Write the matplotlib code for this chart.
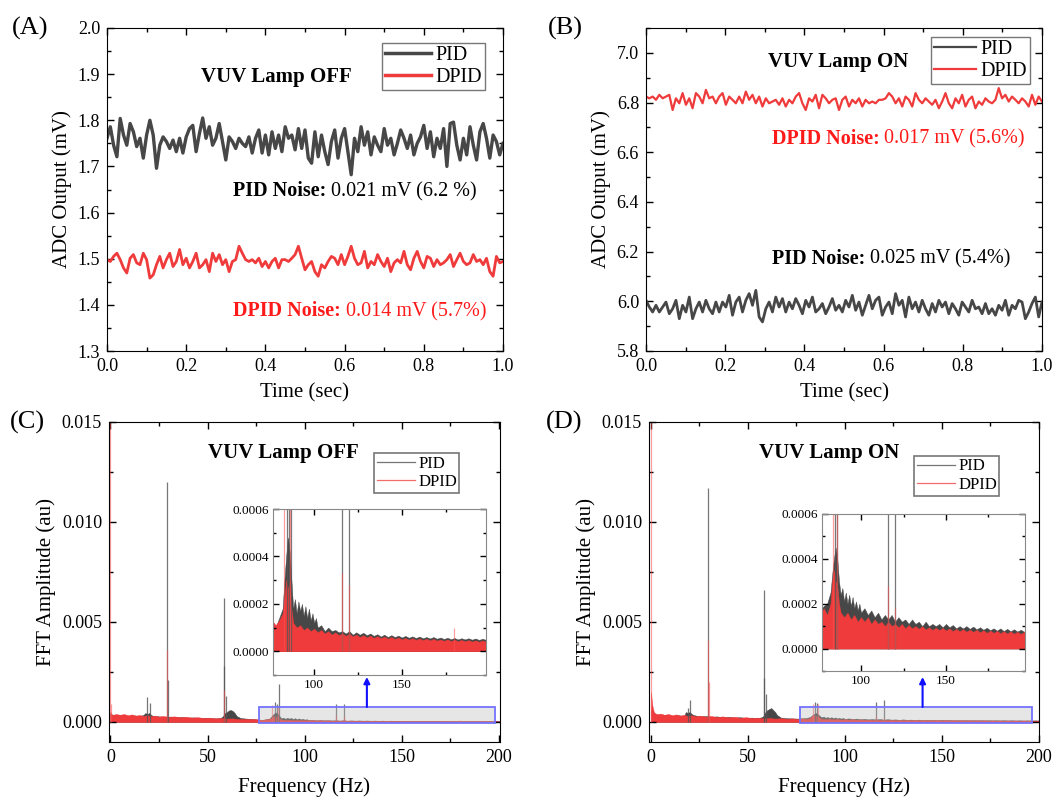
import numpy as np
import matplotlib
matplotlib.use('Agg')
import matplotlib.pyplot as plt
from matplotlib.lines import Line2D
from matplotlib.patches import Rectangle
from matplotlib.ticker import MultipleLocator, FormatStrFormatter

plt.rcParams['font.family'] = ['Liberation Serif', 'DejaVu Serif']

PID_COLOR = '#474747'
DPID_COLOR = '#ef3b3b'

# ---------------- Time-domain data (mV) ----------------
off_pid = [1.761, 1.786, 1.746, 1.721, 1.804, 1.768, 1.746, 1.793, 1.775, 1.743,
           1.761, 1.718, 1.768, 1.800, 1.768, 1.696, 1.746, 1.764, 1.754, 1.739,
           1.757, 1.732, 1.761, 1.729, 1.764, 1.782, 1.789, 1.732, 1.771, 1.805,
           1.761, 1.786, 1.746, 1.761, 1.793, 1.754, 1.714, 1.764, 1.754, 1.739,
           1.761, 1.750, 1.743, 1.764, 1.729, 1.761, 1.779, 1.729, 1.768, 1.725,
           1.775, 1.739, 1.768, 1.732, 1.786, 1.761, 1.768, 1.736, 1.782, 1.739,
           1.779, 1.718, 1.707, 1.775, 1.721, 1.768, 1.732, 1.704, 1.754, 1.779,
           1.718, 1.761, 1.782, 1.732, 1.682, 1.761, 1.732, 1.786, 1.746, 1.775,
           1.725, 1.764, 1.746, 1.732, 1.782, 1.746, 1.761, 1.725, 1.750, 1.779,
           1.761, 1.739, 1.768, 1.725, 1.750, 1.764, 1.789, 1.739, 1.775, 1.721,
           1.761, 1.739, 1.782, 1.700, 1.793, 1.796, 1.746, 1.714, 1.761, 1.725,
           1.786, 1.746, 1.714, 1.775, 1.793, 1.761, 1.718, 1.768, 1.754, 1.725,
           1.750]
off_dpid = [1.498, 1.494, 1.505, 1.512, 1.498, 1.480, 1.469, 1.501, 1.509, 1.491,
            1.487, 1.512, 1.498, 1.458, 1.465, 1.487, 1.505, 1.480, 1.498, 1.512,
            1.483, 1.494, 1.520, 1.487, 1.501, 1.480, 1.494, 1.512, 1.480, 1.487,
            1.498, 1.472, 1.512, 1.494, 1.509, 1.487, 1.498, 1.472, 1.494, 1.498,
            1.527, 1.512, 1.498, 1.494, 1.498, 1.491, 1.501, 1.483, 1.494, 1.480,
            1.494, 1.501, 1.480, 1.498, 1.498, 1.494, 1.501, 1.509, 1.527, 1.501,
            1.476, 1.487, 1.494, 1.472, 1.462, 1.487, 1.480, 1.494, 1.505, 1.501,
            1.487, 1.509, 1.487, 1.505, 1.527, 1.501, 1.487, 1.491, 1.516, 1.480,
            1.494, 1.487, 1.509, 1.494, 1.483, 1.501, 1.472, 1.491, 1.498, 1.491,
            1.516, 1.487, 1.476, 1.501, 1.516, 1.494, 1.480, 1.505, 1.501, 1.483,
            1.498, 1.487, 1.491, 1.498, 1.509, 1.483, 1.498, 1.512, 1.494, 1.487,
            1.491, 1.509, 1.494, 1.498, 1.487, 1.501, 1.472, 1.462, 1.505, 1.491,
            1.494]
on_dpid = [6.824, 6.817, 6.824, 6.811, 6.831, 6.817, 6.824, 6.831, 6.770, 6.817,
           6.797, 6.838, 6.791, 6.817, 6.777, 6.838, 6.824, 6.797, 6.851, 6.817,
           6.824, 6.797, 6.824, 6.838, 6.791, 6.824, 6.811, 6.797, 6.824, 6.797,
           6.844, 6.811, 6.831, 6.797, 6.824, 6.784, 6.817, 6.797, 6.804, 6.811,
           6.791, 6.817, 6.784, 6.811, 6.797, 6.824, 6.838, 6.797, 6.770, 6.817,
           6.804, 6.831, 6.777, 6.831, 6.817, 6.797, 6.811, 6.817, 6.770, 6.811,
           6.824, 6.784, 6.811, 6.797, 6.817, 6.784, 6.811, 6.797, 6.804, 6.797,
           6.811, 6.811, 6.817, 6.838, 6.824, 6.797, 6.817, 6.784, 6.824, 6.811,
           6.784, 6.838, 6.811, 6.797, 6.817, 6.804, 6.791, 6.811, 6.777, 6.804,
           6.838, 6.797, 6.777, 6.817, 6.797, 6.831, 6.784, 6.811, 6.824, 6.777,
           6.804, 6.791, 6.817, 6.804, 6.797, 6.811, 6.858, 6.817, 6.831, 6.804,
           6.824, 6.811, 6.797, 6.817, 6.804, 6.784, 6.831, 6.791, 6.824, 6.804]
on_pid = [6.004, 5.977, 5.957, 5.984, 5.957, 5.977, 5.997, 5.950, 5.970, 6.004,
          5.930, 5.984, 5.957, 6.017, 5.930, 5.970, 5.997, 5.957, 6.004, 5.970,
          5.950, 5.997, 5.957, 5.997, 5.977, 6.024, 5.944, 5.997, 6.017, 5.957,
          6.004, 6.031, 5.984, 6.044, 5.937, 5.917, 5.970, 5.997, 5.957, 6.017,
          5.977, 6.011, 5.957, 5.997, 5.970, 6.011, 5.984, 5.950, 6.004, 5.977,
          6.017, 5.957, 5.970, 5.991, 5.950, 5.977, 6.011, 5.964, 5.984, 5.957,
          6.004, 5.977, 6.024, 5.964, 5.997, 5.944, 5.984, 6.024, 5.970, 6.004,
          6.017, 5.944, 5.977, 5.997, 5.950, 6.031, 5.984, 6.004, 5.937, 6.017,
          5.970, 5.997, 5.957, 6.004, 5.970, 5.944, 5.991, 5.957, 6.004, 5.977,
          5.997, 5.950, 5.991, 5.970, 5.944, 5.997, 5.977, 5.957, 6.004, 5.970,
          5.977, 5.950, 5.991, 5.950, 5.970, 5.944, 5.984, 5.964, 6.004, 5.944,
          5.984, 5.970, 6.004, 5.997, 5.930, 5.957, 5.991, 6.017, 5.937, 5.997]

# ---------------- FFT data (au): (frequency Hz, upper envelope of noise floor) ----------------
c_pid_floor = [
    (0, 0.0004), (3, 0.00032), (6, 0.00036), (9, 0.0003), (12, 0.00033), (15, 0.0003),
    (17, 0.00035), (18, 0.00045), (19, 0.0004), (20, 0.00045), (21, 0.00035), (22, 0.0003),
    (25, 0.00028), (28, 0.00026), (31, 0.00027), (34, 0.00024), (37, 0.00025), (40, 0.00022),
    (43, 0.00023), (46, 0.0002), (49, 0.00021), (52, 0.00019), (55, 0.00018), (57, 0.00022),
    (58, 0.0003), (59, 0.00045), (60, 0.0005), (61, 0.00058), (62, 0.0006), (63, 0.00055),
    (64, 0.00045), (65, 0.0003), (67, 0.0002), (70, 0.00017), (73, 0.00015), (76, 0.00012),
    (78, 0.0001), (80, 0.00014), (82, 0.00018), (83, 0.0003), (84, 0.0004), (85, 0.00048),
    (86, 0.00042), (87, 0.0003), (88, 0.00018), (89, 0.00022), (90, 0.00016), (91, 0.00021),
    (92, 0.00017), (93, 0.0002), (94, 0.00015), (95, 0.00019), (96, 0.00014), (97, 0.00018),
    (98, 0.00013), (99, 0.00016), (100, 0.00012), (101, 0.00014), (102, 0.0001), (104, 0.00011),
    (106, 0.000085), (108, 0.0001), (110, 0.000085), (112, 0.00009), (114, 0.00008),
    (116, 0.000085), (118, 0.000075), (120, 0.000085), (122, 0.00007), (124, 0.00008),
    (126, 0.00007), (128, 0.000078), (130, 0.000068), (132, 0.000075), (134, 0.000065),
    (136, 0.000072), (138, 0.000062), (140, 0.00007), (142, 0.00006), (144, 0.000068),
    (146, 0.00006), (148, 0.000066), (150, 0.000058), (152, 0.000065), (154, 0.000057),
    (156, 0.000063), (158, 0.000056), (160, 0.000062), (162, 0.000055), (164, 0.00006),
    (166, 0.000054), (168, 0.00006), (170, 0.000053), (172, 0.000058), (174, 0.000052),
    (176, 0.000057), (178, 0.000051), (180, 0.000056), (182, 0.00005), (184, 0.000055),
    (186, 0.00005), (188, 0.000055), (190, 0.000049), (192, 0.000054), (194, 0.000048),
    (196, 0.000053), (198, 0.000048), (200, 0.00005)]
c_dpid_floor = [
    (0, 0.0005), (0.5, 0.0004), (1, 0.00035), (3, 0.0004), (5, 0.00036), (7, 0.0004),
    (9, 0.00034), (11, 0.00038), (13, 0.00032), (15, 0.00035), (17, 0.0003), (19, 0.00034),
    (21, 0.00029), (23, 0.00032), (25, 0.00027), (27, 0.0003), (30, 0.00026), (33, 0.00028),
    (36, 0.00024), (39, 0.00026), (42, 0.00022), (45, 0.00024), (48, 0.0002), (51, 0.00022),
    (54, 0.00018), (57, 0.0002), (60, 0.00017), (63, 0.00018), (66, 0.00015), (69, 0.00016),
    (72, 0.00014), (74, 0.00015), (76, 0.00013), (78, 0.00011), (80, 0.00013), (82, 0.00016),
    (83, 0.00022), (84, 0.0003), (85, 0.00026), (86, 0.0003), (87, 0.00018), (88, 0.00012),
    (90, 0.0001), (92, 0.00011), (94, 0.00009), (96, 0.0001), (98, 0.000085), (100, 0.000095),
    (102, 0.00008), (104, 0.00009), (106, 0.000075), (108, 0.000085), (110, 0.00007),
    (112, 0.00008), (114, 0.000068), (116, 0.000076), (118, 0.000065), (120, 0.000074),
    (122, 0.000063), (124, 0.00007), (126, 0.00006), (128, 0.000068), (130, 0.000058),
    (132, 0.000066), (134, 0.000056), (136, 0.000064), (138, 0.000055), (140, 0.000062),
    (142, 0.000053), (144, 0.00006), (146, 0.000052), (148, 0.000058), (150, 0.00005),
    (152, 0.000056), (154, 0.000049), (156, 0.000055), (158, 0.000048), (160, 0.000054),
    (162, 0.000047), (164, 0.000053), (166, 0.000046), (168, 0.000052), (170, 0.000045),
    (172, 0.00005), (174, 0.000044), (176, 0.00005), (178, 0.000043), (180, 0.000049),
    (182, 0.000042), (184, 0.000048), (186, 0.000042), (188, 0.000047), (190, 0.000041),
    (192, 0.000046), (194, 0.00004), (196, 0.000046), (198, 0.00004), (200, 0.000045)]
c_pid_peak_f = [19.0, 20.5, 29.2, 29.8, 58.3, 58.6, 59.6, 84.6, 85.5, 86.8, 116.0, 120.0]
c_pid_peak_h = [0.00125, 0.00095, 0.0120, 0.0021, 0.0062, 0.0028, 0.0013, 0.0010, 0.0009, 0.0019,
                0.0009, 0.0009]
c_dpid_peak_f = [0.0, 0.3, 29.2, 58.5, 83.0, 86.2, 116.0, 120.0, 180.0]
c_dpid_peak_h = [0.0155, 0.0009, 0.0036, 0.0016, 0.00085, 0.0008, 0.00033, 0.00028, 0.0001]

d_pid_floor = [
    (0, 0.0006), (1, 0.0005), (2, 0.00035), (5, 0.00033), (8, 0.00036), (11, 0.0003),
    (14, 0.00034), (17, 0.0003), (18, 0.0005), (19, 0.00045), (20, 0.0005), (21, 0.0004),
    (22, 0.00035), (25, 0.00028), (28, 0.0003), (31, 0.00026), (34, 0.00028), (37, 0.00024),
    (40, 0.00026), (43, 0.00022), (46, 0.00024), (49, 0.0002), (52, 0.00022), (55, 0.00019),
    (57, 0.00024), (58, 0.0003), (59, 0.0005), (60, 0.0006), (61, 0.00065), (62, 0.0007),
    (63, 0.0006), (64, 0.0005), (65, 0.00035), (67, 0.00022), (70, 0.00019), (73, 0.00018),
    (76, 0.00017), (78, 0.00019), (80, 0.0002), (82, 0.00025), (83, 0.00033), (84, 0.0004),
    (85, 0.00045), (86, 0.0004), (87, 0.0003), (88, 0.00024), (89, 0.00027), (90, 0.00021),
    (91, 0.00025), (92, 0.0002), (93, 0.00024), (94, 0.00019), (95, 0.00023), (96, 0.00018),
    (97, 0.00021), (98, 0.00017), (99, 0.0002), (100, 0.00016), (102, 0.00018), (104, 0.00015),
    (106, 0.00017), (108, 0.00014), (110, 0.00016), (112, 0.00013), (114, 0.00015),
    (116, 0.00013), (118, 0.00015), (120, 0.00012), (122, 0.00014), (124, 0.00012),
    (126, 0.00013), (128, 0.00011), (130, 0.00013), (132, 0.00011), (134, 0.00012),
    (136, 0.0001), (138, 0.00012), (140, 0.0001), (142, 0.00011), (144, 0.0001),
    (146, 0.00011), (148, 0.000095), (150, 0.00011), (152, 0.000095), (154, 0.000105),
    (156, 0.00009), (158, 0.0001), (160, 0.00009), (162, 0.0001), (164, 0.000088),
    (166, 0.000098), (168, 0.000086), (170, 0.000095), (172, 0.000084), (174, 0.000093),
    (176, 0.000082), (178, 0.00009), (180, 0.00008), (182, 0.00009), (184, 0.000078),
    (186, 0.000088), (188, 0.000077), (190, 0.000086), (192, 0.000076), (194, 0.000084),
    (196, 0.000075), (198, 0.000082), (200, 0.000075)]
d_dpid_floor = [
    (0, 0.0015), (0.3, 0.0012), (0.6, 0.0009), (1, 0.0007), (1.5, 0.0005), (2, 0.00045),
    (3, 0.0004), (5, 0.00042), (7, 0.00036), (9, 0.0004), (11, 0.00034), (13, 0.00038),
    (15, 0.00032), (17, 0.00036), (19, 0.0003), (21, 0.00034), (23, 0.00029), (25, 0.00032),
    (28, 0.00027), (31, 0.0003), (34, 0.00025), (37, 0.00028), (40, 0.00023), (43, 0.00026),
    (46, 0.00021), (49, 0.00024), (52, 0.0002), (55, 0.00022), (58, 0.00018), (61, 0.0002),
    (64, 0.00017), (67, 0.00019), (70, 0.00016), (73, 0.00018), (76, 0.00015), (78, 0.00018),
    (80, 0.00015), (82, 0.0002), (83, 0.0003), (84, 0.00035), (85, 0.0003), (86, 0.00028),
    (87, 0.0002), (88, 0.00016), (90, 0.00014), (92, 0.00016), (94, 0.00013), (96, 0.00015),
    (98, 0.00012), (100, 0.00014), (102, 0.00012), (104, 0.00014), (106, 0.00011),
    (108, 0.00013), (110, 0.00011), (112, 0.00012), (114, 0.0001), (116, 0.00012),
    (118, 0.0001), (120, 0.00011), (122, 0.000095), (124, 0.00011), (126, 0.00009),
    (128, 0.000105), (130, 0.00009), (132, 0.0001), (134, 0.000088), (136, 0.0001),
    (138, 0.000085), (140, 0.000095), (142, 0.000083), (144, 0.000093), (146, 0.000082),
    (148, 0.000092), (150, 0.00008), (152, 0.00009), (154, 0.000078), (156, 0.000088),
    (158, 0.000077), (160, 0.000087), (162, 0.000075), (164, 0.000085), (166, 0.000074),
    (168, 0.000084), (170, 0.000072), (172, 0.000082), (174, 0.00007), (176, 0.00008),
    (178, 0.00007), (180, 0.000079), (182, 0.000068), (184, 0.000078), (186, 0.000067),
    (188, 0.000077), (190, 0.000066), (192, 0.000075), (194, 0.000065), (196, 0.000074),
    (198, 0.000064), (200, 0.00007)]
d_pid_peak_f = [19.0, 20.3, 29.2, 58.2, 58.5, 59.3, 84.5, 85.8, 116.0, 120.0]
d_pid_peak_h = [0.0007, 0.0011, 0.0117, 0.0066, 0.0022, 0.0014, 0.0010, 0.00095, 0.0010, 0.0011]
d_dpid_peak_f = [0.0, 29.2, 29.8, 83.3, 86.0, 116.0, 120.0]
d_dpid_peak_h = [0.0155, 0.0041, 0.0020, 0.0009, 0.0009, 0.00028, 0.00018]

# ---------------- figure ----------------
W, H = 1062, 798
fig = plt.figure(figsize=(W / 100, H / 100), dpi=100)


def px_axes(l, t, r, b):
    return fig.add_axes([l / W, 1 - b / H, (r - l) / W, (b - t) / H])


def style(ax, xmaj, xmin, ymaj, ymin, xfmt, yfmt, size=13, lmaj=5, lmin=3, pad=5):
    ax.xaxis.set_major_locator(MultipleLocator(xmaj))
    ax.xaxis.set_minor_locator(MultipleLocator(xmin))
    ax.yaxis.set_major_locator(MultipleLocator(ymaj))
    ax.yaxis.set_minor_locator(MultipleLocator(ymin))
    ax.xaxis.set_major_formatter(FormatStrFormatter(xfmt))
    ax.yaxis.set_major_formatter(FormatStrFormatter(yfmt))
    ax.tick_params(which='both', direction='in', top=True, right=True, labelsize=size, pad=pad)
    ax.tick_params(which='major', length=lmaj, width=1)
    ax.tick_params(which='minor', length=lmin, width=1)


def two_part_text(ax, x, y, bold, rest, color, size=14.5):
    t1 = ax.text(x, y, bold, fontweight='bold', color=color, fontsize=size,
                 ha='left', va='bottom')
    ax.annotate(rest, xy=(1, 0), xycoords=t1, ha='left', va='bottom',
                color=color, fontsize=size)


def legend(ax, lw, anchor, size, hl, frame_lw=1.0, alpha=1.0):
    handles = [Line2D([], [], color=PID_COLOR, lw=lw, alpha=alpha),
               Line2D([], [], color=DPID_COLOR, lw=lw, alpha=alpha)]
    lg = ax.legend(handles, ['PID', 'DPID'], loc='upper left', bbox_to_anchor=anchor,
                   bbox_transform=fig.transFigure, fontsize=size, handlelength=hl,
                   handletextpad=0.2, labelspacing=0.15, borderpad=0.15,
                   borderaxespad=0, fancybox=False, framealpha=1)
    lg.get_frame().set_edgecolor('#777777')
    lg.get_frame().set_linewidth(frame_lw)
    return lg


# ---- Panel A ----
axA = px_axes(107, 28, 503, 351)
axA.plot(np.linspace(0, 1, len(off_pid)), off_pid, color=PID_COLOR, lw=2.4)
axA.plot(np.linspace(0, 1, len(off_dpid)), off_dpid, color=DPID_COLOR, lw=2.0)
axA.set_xlim(0, 1)
axA.set_ylim(1.3, 2.0)
style(axA, 0.2, 0.1, 0.1, 0.05, '%.1f', '%.1f')
axA.set_xlabel('Time (sec)', fontsize=15, labelpad=6)
axA.set_ylabel('ADC Output (mV)', fontsize=15, labelpad=4)
axA.text(0.427, 1.894, 'VUV Lamp OFF', fontweight='bold', fontsize=15, ha='center', va='center')
two_part_text(axA, 0.318, 1.625, 'PID Noise:', ' 0.021 mV (6.2 %)', 'black')
two_part_text(axA, 0.318, 1.365, 'DPID Noise:', ' 0.014 mV (5.7%)', '#ff1a1a')
legend(axA, 2.5, (382 / W, 1 - 43 / H), 14.5, 2.3)

# ---- Panel B ----
axB = px_axes(646, 28, 1042, 351)
axB.plot(np.linspace(0, 1, len(on_pid)), on_pid, color=PID_COLOR, lw=2.0)
axB.plot(np.linspace(0, 1, len(on_dpid)), on_dpid, color=DPID_COLOR, lw=1.6)
axB.set_xlim(0, 1)
axB.set_ylim(5.8, 7.1)
style(axB, 0.2, 0.1, 0.2, 0.1, '%.1f', '%.1f')
axB.set_xlabel('Time (sec)', fontsize=15, labelpad=6)
axB.set_ylabel('ADC Output (mV)', fontsize=15, labelpad=4)
axB.text(0.484, 6.963, 'VUV Lamp ON', fontweight='bold', fontsize=15, ha='center', va='center')
two_part_text(axB, 0.317, 6.615, 'DPID Noise:', ' 0.017 mV (5.6%)', '#ff1a1a')
two_part_text(axB, 0.317, 6.131, 'PID Noise:', ' 0.025 mV (5.4%)', 'black')
legend(axB, 1.6, (931 / W, 1 - 37 / H), 14.5, 2.1)


# ---- FFT panels ----
def draw_spectrum(ax, pfloor, pkf, pkh, dfloor, dkf, dkh, lw):
    pf, ph = zip(*pfloor)
    df, dh = zip(*dfloor)
    ax.fill_between(pf, 0, ph, color=PID_COLOR, lw=0.3, edgecolor=PID_COLOR)
    ax.vlines(pkf, 0, pkh, color='#555555', lw=lw, alpha=0.8)
    ax.fill_between(df, 0, dh, color=DPID_COLOR, lw=0.3, edgecolor=DPID_COLOR)
    ax.vlines(dkf, 0, dkh, color='#ff5050', lw=lw, alpha=0.55)


def fft_panel(rect, xlim, inset_rect, inset_xlim, pfloor, pkf, pkh, dfloor, dkf, dkh,
              title, title_x, arrow_x, leg_anchor):
    ax = px_axes(*rect)
    draw_spectrum(ax, pfloor, pkf, pkh, dfloor, dkf, dkh, 0.9)
    ax.set_xlim(*xlim)
    ax.set_ylim(-0.001, 0.015)
    style(ax, 50, 25, 0.005, 0.0025, '%d', '%.3f')
    ax.set_xlabel('Frequency (Hz)', fontsize=15, labelpad=8)
    ax.set_ylabel('FFT Amplitude (au)', fontsize=15, labelpad=4)
    ax.text(title_x, 0.01345, title, fontweight='bold', fontsize=15, ha='center', va='center')
    ax.add_patch(Rectangle((inset_xlim[0], -0.00005), inset_xlim[1] - inset_xlim[0], 0.0008,
                           facecolor=(0.72, 0.72, 0.72, 0.35), edgecolor=(0.45, 0.45, 1.0),
                           lw=1.3, zorder=5))
    ax.annotate('', xy=(arrow_x, 0.00225), xytext=(arrow_x, 0.00075),
                arrowprops=dict(arrowstyle='-|>', color='#1010ff', lw=1.5,
                                mutation_scale=9, shrinkA=0, shrinkB=0), zorder=6)
    legend(ax, 0.9, leg_anchor, 12, 2.3, frame_lw=1.2, alpha=0.75)

    ins = px_axes(*inset_rect)
    draw_spectrum(ins, pfloor, pkf, pkh, dfloor, dkf, dkh, 0.9)
    ins.set_xlim(*inset_xlim)
    ins.set_ylim(-0.0001, 0.0006)
    style(ins, 50, 25, 0.0002, 0.0001, '%d', '%.4f', size=9.5, lmaj=4, lmin=2, pad=3)
    for s in ins.spines.values():
        s.set_edgecolor('#888888')
    return ax


fft_panel((109, 422, 500, 742), (-0.7, 200.5), (273, 509, 486, 675), (76.5, 198),
          c_pid_floor, c_pid_peak_f, c_pid_peak_h,
          c_dpid_floor, c_dpid_peak_f, c_dpid_peak_h,
          'VUV Lamp OFF', 88.8, 132, (374 / W, 1 - 453 / H))
fft_panel((649, 422, 1039, 742), (-1.0, 200), (822, 514, 1025, 671), (77, 196.5),
          d_pid_floor, d_pid_peak_f, d_pid_peak_h,
          d_dpid_floor, d_dpid_peak_f, d_dpid_peak_h,
          'VUV Lamp ON', 91.7, 140, (914 / W, 1 - 456 / H))

# panel labels
fig.text(12 / W, 1 - 28 / H, '(A)', fontsize=19, ha='left', va='center')
fig.text(548 / W, 1 - 28 / H, '(B)', fontsize=19, ha='left', va='center')
fig.text(10 / W, 1 - 422 / H, '(C)', fontsize=19, ha='left', va='center')
fig.text(546 / W, 1 - 422 / H, '(D)', fontsize=19, ha='left', va='center')

fig.savefig('out.png', dpi=100)
